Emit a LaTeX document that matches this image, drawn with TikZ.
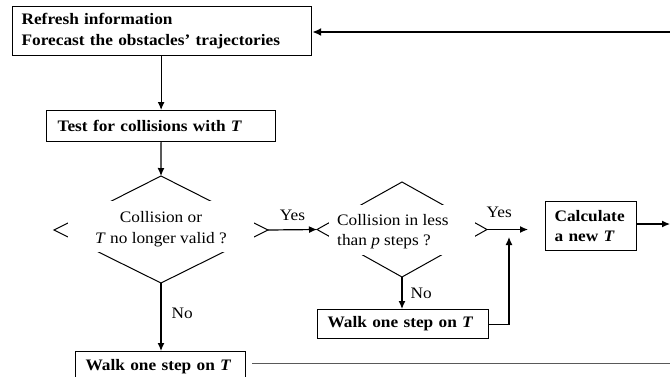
\documentclass[tikz,border=0pt]{standalone}
\usepackage{fontspec}
\setmainfont{Liberation Serif}[FakeStretch=1.08]
\usetikzlibrary{arrows.meta}
\begin{document}
\begin{tikzpicture}[x=1pt,y=-1pt,
  box/.style={draw, line width=1.2pt, font=\bfseries, align=left, inner ysep=0pt, anchor=north west},
  conn/.style={line width=1.2pt, -{Latex[length=8pt,width=7pt]}},
  dia/.style={line width=1pt},
  lbl/.style={inner sep=0pt}]
\useasboundingbox (0,0) rectangle (670,376);
\clip (0,0) rectangle (670,376);
\fontsize{16}{20.5}\selectfont
% boxes
\node[box, minimum width=299pt, minimum height=49pt, text width=281pt, inner xsep=9pt] (top) at (12,6)
  {Refresh information\\Forecast the obstacles’ trajectories};
\node[box, minimum width=229pt, minimum height=31pt, text width=207pt, inner xsep=11pt] (test) at (46,110)
  {Test for collisions with \textit{T}};
\node[box, minimum width=91pt, minimum height=49pt, text width=73pt, inner xsep=9pt] (calc) at (545,201)
  {Calculate\\a new \textit{T}};
\node[box, minimum width=171pt, minimum height=29pt, text width=151pt, inner xsep=10pt] (walk2) at (317,309)
  {Walk one step on \textit{T}};
\node[box, minimum width=170pt, minimum height=31pt, text width=150pt, inner xsep=10pt] (walk1) at (75,351)
  {Walk one step on \textit{T}};
% diamond 1
\coordinate (d1t) at (161,176);
\coordinate (d1r) at (268,230);
\coordinate (d1b) at (161,283);
\coordinate (d1l) at (54,230);
\draw[dia] (d1t) -- (d1r) -- (d1b) -- (d1l) -- cycle;
\fill[white] (68,201) rectangle (254,252);
\node[lbl, align=center] (d1) at (161,229) {Collision or\\\textit{T} no longer valid ?};
% diamond 2
\coordinate (d2t) at (402,182);
\coordinate (d2r) at (487,229.5);
\coordinate (d2b) at (402,277);
\coordinate (d2l) at (317,229.5);
\draw[dia] (d2t) -- (d2r) -- (d2b) -- (d2l) -- cycle;
\fill[white] (329,205) rectangle (475,255);
\node[lbl, align=left, anchor=west] (d2) at (337,231.5) {Collision in less\\than \textit{p} steps ?};
% free ends
\coordinate (rin) at (670,32);
\coordinate (rout) at (670,224);
\coordinate (yesend) at (528,229.5);
\coordinate (upend) at (509,237);
\coordinate (bl) at (252,363);
\coordinate (br) at (670,363);
% connectors
\draw[line width=2pt, -{Latex[length=9pt,width=8pt]}] (rin) -- (top.east |- rin);
\draw[conn] (top.south -| test.north) -- (test.north);
\draw[conn] (test.south) -- (d1t);
\draw[conn] (d1r) -- node[lbl, above=9pt] {Yes} (d2l);
\draw[conn] (d2r) -- node[lbl, above=11pt, pos=0.3] {Yes} (yesend);
\draw[conn] (d2b) -- node[lbl, right=8pt] {No} (walk2.north -| d2b);
\draw[conn] (d1b) -- node[lbl, right=10pt, pos=0.45] {No} (walk1.north -| d1b);
\draw[conn] (walk2.east) -| (upend);
\draw[conn] (calc.east |- rout) -- (rout);
\draw[line width=1pt, gray!70!black] (bl) -- (br);
\end{tikzpicture}
\end{document}
